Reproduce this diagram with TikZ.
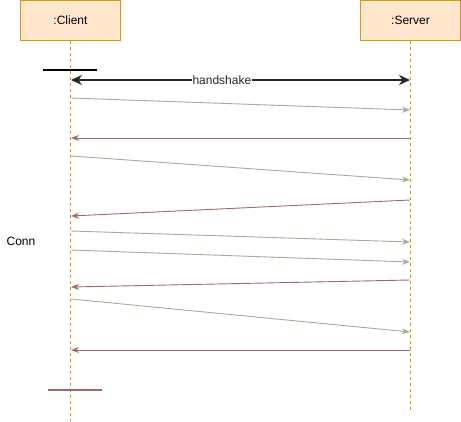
\documentclass[tikz,border=0pt]{standalone}
\usepackage{fontspec}
\setmainfont{Liberation Sans}
\usetikzlibrary{arrows.meta}
\definecolor{boxfill}{HTML}{FFE6CC}
\definecolor{boxline}{HTML}{D79B00}
\definecolor{reqcol}{HTML}{A4AE90}
\definecolor{respcol}{HTML}{9E6C64}
\tikzset{
    lifebox/.style={draw=boxline, fill=boxfill, line width=0.8pt, minimum width=100pt, minimum height=40pt, inner sep=0pt, font=\fontsize{12}{14}\selectfont},
    lifeline/.style={boxline, dashed, dash pattern=on 3pt off 3pt, line width=0.8pt},
    req/.style={reqcol, line width=0.9pt, -{Stealth[length=8pt,width=6pt]}},
    resp/.style={respcol, line width=0.9pt, -{Stealth[length=8pt,width=6pt]}}
}
\begin{document}
\begin{tikzpicture}[x=1pt, y=-1pt]
            \useasboundingbox (0,0) rectangle (461,421);

            \node[lifebox] (client) at (70.5,20.5) {:Client};
            \node[lifebox] (server) at (410.5,20.5) {:Server};

            \coordinate (clientend) at (70.5,421);
            \coordinate (serverend) at (410.5,410);
            \draw[lifeline] (client.south) -- (clientend);
            \draw[lifeline] (server.south) -- (serverend);

            % bars
            \coordinate (bar1a) at (43,70);
            \coordinate (bar1b) at (97,70);
            \draw[black, line width=1.6pt] (bar1a) -- (bar1b);
            \coordinate (bar2a) at (48,390);
            \coordinate (bar2b) at (102,390);
            \draw[respcol, line width=1.4pt] (bar2a) -- (bar2b);

            % handshake
            \coordinate (hsc) at (71,80);
            \coordinate (hss) at (410,80);
            \draw[black!85, line width=1.8pt, {Stealth[length=11pt,width=10pt]}-{Stealth[length=11pt,width=10pt]}] (hsc) -- node[pos=0.445, fill=white, inner sep=0.5pt, font=\fontsize{12}{14}\selectfont] (hslabel) {handshake} (hss);

            % client to server
            \foreach \cy/\sy [count=\i] in {98/110, 156/180, 231/242, 250/262, 299/332} {
                \coordinate (rc\i) at (71,\cy);
                \coordinate (rs\i) at (410,\sy);
                \draw[req] (rc\i) -- (rs\i);
            }

            % server to client
            \foreach \sy/\cy [count=\i] in {138/138, 200/216, 280/287, 350/350} {
                \coordinate (ps\i) at (410,\sy);
                \coordinate (pc\i) at (71,\cy);
                \draw[resp] (ps\i) -- (pc\i);
            }

            \node[font=\fontsize{12}{14}\selectfont] (conn) at (21,241) {Conn};
        \end{tikzpicture}
\end{document}
